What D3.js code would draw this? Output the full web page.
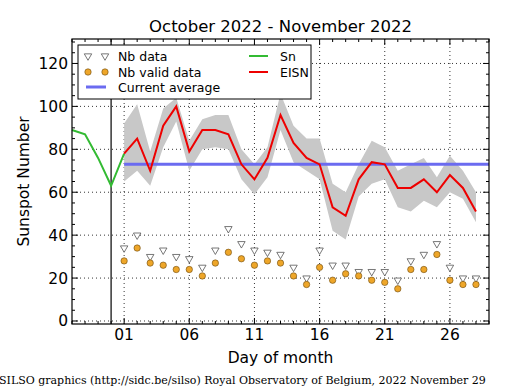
<!DOCTYPE html>
<html><head><meta charset="utf-8">
<script src="https://cdn.jsdelivr.net/npm/d3@7"></script>
<style>body{margin:0;background:#fff}svg{display:block}text{font-family:"DejaVu Sans",sans-serif}</style>
</head><body><svg id="c" width="515" height="390"></svg>
<script>
// Days relative to November (day 0 = 31 Oct)
const snDays = [-3, -2, -1, 0, 1];
const snValues = [89, 87, 76, 63, 78];
const days = d3.range(1, 29);
const eisn = [78, 85, 70, 91, 100, 79, 89, 89, 87, 73, 66, 76, 96, 83, 76, 73, 53, 49, 66, 74, 73, 62, 62, 66, 60, 68, 62, 51];
const eisnUpper = [92, 101, 79, 99, 104, 84, 94, 96, 96, 80, 73, 81, 106, 91, 85, 85, 64, 60, 73, 84, 81, 70, 73, 76, 67, 77, 70, 60];
const eisnLower = [65, 70, 63, 81, 93, 70, 80, 81, 80, 66, 59, 67, 89, 74, 70, 66, 42, 38, 58, 64, 66, 53, 51, 56, 53, 60, 57, 46];
const nbData = [34, 40, 30, 33, 30, 29, 25, 33, 43, 36, 33, 32, 31, 25, 20, 33, 26, 26, 23, 23, 23, 19, 28, 31, 36, 25, 20, 20];
const nbValid = [28, 34, 27, 26, 24, 24, 21, 27, 32, 29, 26, 28, 27, 21, 17, 25, 19, 22, 21, 19, 18, 15, 24, 24, 31, 19, 17, 17];
const currentAverage = 73;
const xTickDays = [1, 6, 11, 16, 21, 26];
const xTickLabels = ["01", "06", "11", "16", "21", "26"];
const yTicks = [0, 20, 40, 60, 80, 100, 120];
const titleText = "October 2022 - November 2022";
const footerText = "SILSO graphics (http://sidc.be/silso) Royal Observatory of Belgium, 2022 November 29";

const L = 72, R = 489, T = 39, B = 324;
const svg = d3.select("#c");
const x = d3.scaleLinear().domain([-3, 29]).range([L, R]);
const y = d3.scaleLinear().domain([-1.4, 131.4]).range([B, T]);

// grid
const g = svg.append("g");
g.selectAll(".gx").data(xTickDays).enter().append("line")
  .attr("x1", d => x(d)).attr("x2", d => x(d)).attr("y1", T).attr("y2", B)
  .attr("stroke", "#000").attr("stroke-width", 0.8).attr("stroke-dasharray", "1,3");
g.selectAll(".gy").data(yTicks).enter().append("line")
  .attr("x1", L).attr("x2", R).attr("y1", d => y(d)).attr("y2", d => y(d))
  .attr("stroke", "#000").attr("stroke-width", 0.8).attr("stroke-dasharray", "1,3");

// band
const idx = d3.range(days.length);
svg.append("path").datum(idx)
  .attr("d", d3.area().x(i => x(days[i])).y0(i => y(eisnLower[i])).y1(i => y(eisnUpper[i])))
  .attr("fill", "#c8c8c8").attr("stroke", "none");

// vertical month separator
svg.append("line").attr("x1", x(0)).attr("x2", x(0)).attr("y1", T).attr("y2", B)
  .attr("stroke", "#000").attr("stroke-width", 1.2);

// current average
svg.append("line").attr("x1", x(1)).attr("x2", R).attr("y1", y(currentAverage)).attr("y2", y(currentAverage))
  .attr("stroke", "#6b6bf0").attr("stroke-width", 3);

// Sn line
svg.append("path").datum(d3.range(snDays.length))
  .attr("d", d3.line().x(i => x(snDays[i])).y(i => y(snValues[i])))
  .attr("fill", "none").attr("stroke", "#33bb33").attr("stroke-width", 2);

// EISN
svg.append("path").datum(idx)
  .attr("d", d3.line().x(i => x(days[i])).y(i => y(eisn[i])))
  .attr("fill", "none").attr("stroke", "#ee0000").attr("stroke-width", 2);

// markers
const tri = d3.symbol().type(d3.symbolTriangle).size(24);
svg.selectAll(".tri").data(idx).enter().append("path")
  .attr("d", tri).attr("transform", i => `translate(${x(days[i])},${y(nbData[i])}) rotate(180)`)
  .attr("fill", "#fff").attr("stroke", "#555").attr("stroke-width", 0.8);
svg.selectAll(".dot").data(idx).enter().append("circle")
  .attr("cx", i => x(days[i])).attr("cy", i => y(nbValid[i])).attr("r", 3.2)
  .attr("fill", "#eea629").attr("stroke", "#6b4a10").attr("stroke-width", 0.6);

// frame
svg.append("rect").attr("x", L).attr("y", T).attr("width", R - L).attr("height", B - T)
  .attr("fill", "none").attr("stroke", "#000").attr("stroke-width", 1.2);

// ticks
const ax = svg.append("g");
const minorX = d3.range(-3, 30);
ax.selectAll(".mx").data(minorX).enter().append("g").each(function(d) {
  const s = d3.select(this), len = xTickDays.includes(d) ? 6 : 3;
  s.append("line").attr("x1", x(d)).attr("x2", x(d)).attr("y1", B).attr("y2", B - len).attr("stroke", "#000");
  s.append("line").attr("x1", x(d)).attr("x2", x(d)).attr("y1", T).attr("y2", T + len).attr("stroke", "#000");
});
const minorY = d3.range(0, 131, 5);
ax.selectAll(".my").data(minorY).enter().append("g").each(function(d) {
  const s = d3.select(this), len = d % 20 === 0 ? 6 : 3;
  s.append("line").attr("x1", L).attr("x2", L + len).attr("y1", y(d)).attr("y2", y(d)).attr("stroke", "#000");
  s.append("line").attr("x1", R).attr("x2", R - len).attr("y1", y(d)).attr("y2", y(d)).attr("stroke", "#000");
});
ax.selectAll(".xl").data(xTickDays).enter().append("text")
  .attr("x", d => x(d)).attr("y", B + 16).attr("text-anchor", "middle").attr("font-size", 15.5)
  .text((d, i) => xTickLabels[i]);
ax.selectAll(".yl").data(yTicks).enter().append("text")
  .attr("x", L - 4).attr("y", d => y(d) + 5.5).attr("text-anchor", "end").attr("font-size", 15.5)
  .text(d => d);

// labels
svg.append("text").attr("x", (L + R) / 2).attr("y", 32).attr("text-anchor", "middle").attr("font-size", 16.5).text(titleText);
svg.append("text").attr("x", (L + R) / 2).attr("y", 363).attr("text-anchor", "middle").attr("font-size", 15.5).text("Day of month");
svg.append("text").attr("transform", `translate(29,${(T + B) / 2}) rotate(-90)`).attr("text-anchor", "middle").attr("font-size", 15.5).text("Sunspot Number");
svg.append("text").attr("x", -1).attr("y", 384).attr("font-size", 11).attr("style", "font-family:'DejaVu Serif',serif").text(footerText);

// legend
const lg = svg.append("g");
lg.append("rect").attr("x", 78).attr("y", 45).attr("width", 233).attr("height", 54).attr("fill", "#fff").attr("stroke", "#000").attr("stroke-width", 1);
const ly = [56, 72, 87];
[88, 105].forEach(px => {
  lg.append("path").attr("d", tri).attr("transform", `translate(${px},${ly[0]}) rotate(180)`).attr("fill", "#fff").attr("stroke", "#555").attr("stroke-width", 0.8);
  lg.append("circle").attr("cx", px).attr("cy", ly[1]).attr("r", 3.2).attr("fill", "#eea629").attr("stroke", "#6b4a10").attr("stroke-width", 0.6);
});
lg.append("line").attr("x1", 86).attr("x2", 106).attr("y1", ly[2]).attr("y2", ly[2]).attr("stroke", "#6b6bf0").attr("stroke-width", 3);
const lt = ["Nb data", "Nb valid data", "Current average"];
lt.forEach((t, i) => lg.append("text").attr("x", 118).attr("y", ly[i] + 4.5).attr("font-size", 12.5).text(t));
lg.append("line").attr("x1", 249).attr("x2", 268).attr("y1", ly[0]).attr("y2", ly[0]).attr("stroke", "#33bb33").attr("stroke-width", 2);
lg.append("line").attr("x1", 249).attr("x2", 268).attr("y1", ly[1]).attr("y2", ly[1]).attr("stroke", "#ee0000").attr("stroke-width", 2);
lg.append("text").attr("x", 280).attr("y", ly[0] + 4.5).attr("font-size", 12.5).text("Sn");
lg.append("text").attr("x", 280).attr("y", ly[1] + 4.5).attr("font-size", 12.5).text("EISN");
</script></body></html>
